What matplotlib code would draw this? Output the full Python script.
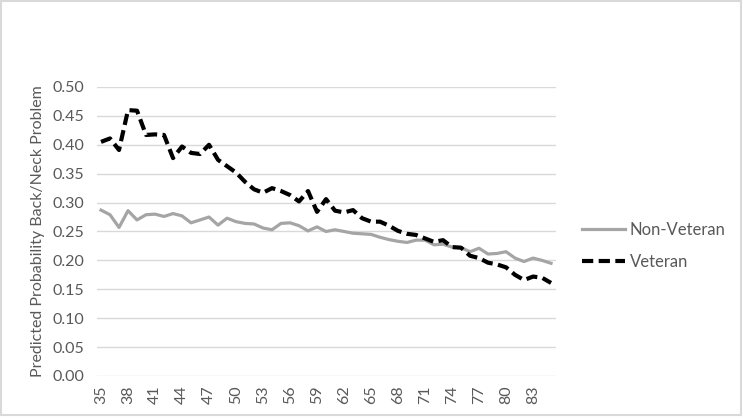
import matplotlib.pyplot as plt
from matplotlib.patches import Rectangle

ages = list(range(35, 86))
non_veteran = [0.287, 0.279, 0.257, 0.286, 0.270, 0.279, 0.280, 0.276, 0.281, 0.277,
               0.265, 0.270, 0.275, 0.261, 0.273, 0.267, 0.264, 0.263, 0.256, 0.253,
               0.264, 0.265, 0.260, 0.251, 0.258, 0.250, 0.253, 0.250, 0.247, 0.246,
               0.245, 0.240, 0.236, 0.233, 0.231, 0.235, 0.235, 0.227, 0.228, 0.223,
               0.222, 0.215, 0.221, 0.211, 0.212, 0.215, 0.204, 0.198, 0.204, 0.200,
               0.195]
veteran = [0.405, 0.411, 0.391, 0.460, 0.459, 0.417, 0.418, 0.417, 0.377, 0.397,
           0.386, 0.384, 0.400, 0.374, 0.363, 0.352, 0.336, 0.323, 0.317, 0.325,
           0.320, 0.313, 0.302, 0.320, 0.284, 0.306, 0.286, 0.283, 0.287, 0.273,
           0.267, 0.267, 0.260, 0.251, 0.246, 0.244, 0.238, 0.232, 0.235, 0.223,
           0.222, 0.208, 0.204, 0.196, 0.193, 0.188, 0.175, 0.166, 0.172, 0.170,
           0.161]
yticks = [0.0, 0.05, 0.10, 0.15, 0.20, 0.25, 0.30, 0.35, 0.40, 0.45, 0.50]

plt.rcParams['font.family'] = ['Lato', 'DejaVu Sans']
txt = '#595959'
fs = 11.5

fig = plt.figure(figsize=(7.43, 4.18), dpi=100)
# chart border like the Excel frame
fig.patches.append(Rectangle((1 / 743, 3 / 418), 740 / 743, 414 / 418,
                             transform=fig.transFigure, fill=False,
                             edgecolor='#d9d9d9', linewidth=1.5))
ax = fig.add_axes([0.1299, 0.1005, 0.6178, 0.6914])

x = list(range(len(ages)))
ax.plot(x, non_veteran, color='#a5a5a5', linewidth=2.3, label='Non-Veteran')
ax.plot(x, veteran, color='black', linewidth=3, linestyle=(0, (2.7, 1.3)),
        label='Veteran')

ax.set_xlim(-0.5, len(ages) - 0.5)
ax.set_ylim(0, 0.5)
ax.set_yticks(yticks)
ax.set_yticklabels([f'{v:.2f}' for v in yticks], fontsize=fs, color=txt)
ax.set_xticks(x[::3])
ax.set_xticklabels([str(a) for a in ages[::3]], rotation=90, fontsize=fs, color=txt)
ax.tick_params(axis='y', length=0, pad=9)
ax.tick_params(axis='x', length=0, pad=7)
ax.grid(axis='y', color='#d9d9d9', linewidth=1)
ax.set_axisbelow(True)
for s in ax.spines.values():
    s.set_visible(False)
ax.set_ylabel('Predicted Probability Back/Neck Problem', fontsize=fs, color=txt,
              labelpad=5)

leg = ax.legend(loc='center left', bbox_to_anchor=(1.025, 0.45), frameon=False,
                fontsize=fs + 0.5, handlelength=2.6, labelspacing=0.95,
                handletextpad=0.25)
for t in leg.get_texts():
    t.set_color(txt)

fig.savefig('out.png', dpi=100)
